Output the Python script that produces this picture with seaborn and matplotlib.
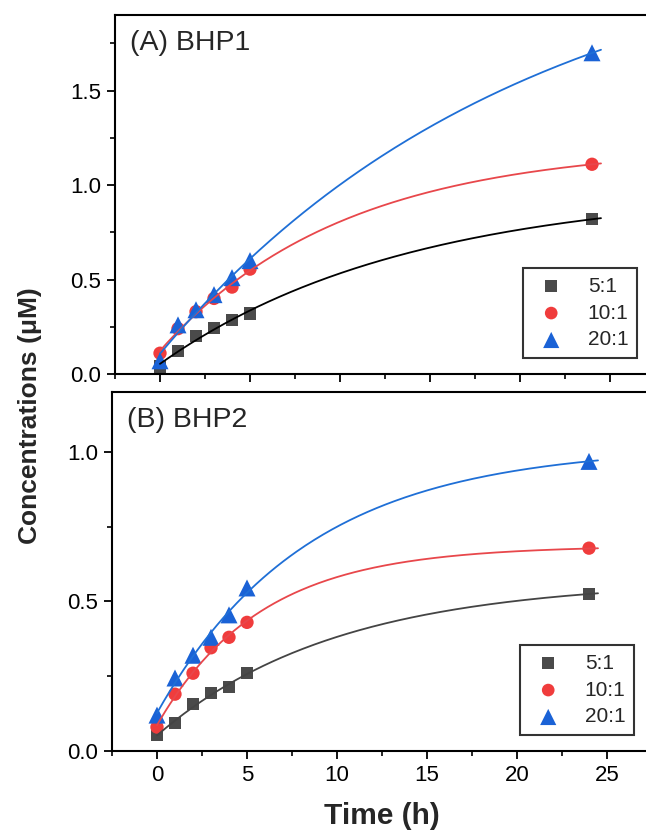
import numpy as np
import pandas as pd
import seaborn as sns
import matplotlib.pyplot as plt
from matplotlib.ticker import MultipleLocator

# sampling times (h)
time_h = [0, 1, 2, 3, 4, 5, 24]
ratios = ["5:1", "10:1", "20:1"]

# (A) BHP1 concentrations (uM)
bhp1_5 = [0.04, 0.12, 0.20, 0.245, 0.285, 0.32, 0.82]
bhp1_10 = [0.11, 0.24, 0.33, 0.40, 0.46, 0.555, 1.11]
bhp1_20 = [0.07, 0.26, 0.34, 0.42, 0.51, 0.60, 1.70]

# (B) BHP2 concentrations (uM)
bhp2_5 = [0.053, 0.093, 0.157, 0.193, 0.213, 0.26, 0.525]
bhp2_10 = [0.08, 0.19, 0.26, 0.345, 0.38, 0.43, 0.678]
bhp2_20 = [0.12, 0.244, 0.32, 0.38, 0.455, 0.545, 0.968]

marker_col = {"5:1": "#4a4a4a", "10:1": "#f03c3c", "20:1": "#1a62d6"}
markers = {"5:1": "s", "10:1": "o", "20:1": "^"}
msize = {"5:1": 78, "10:1": 92, "20:1": 150}


def fit_curve(t, y):
    # exponential rise fit y = a + b*exp(-k t), k by grid, a,b by least squares
    t = np.asarray(t, float)
    y = np.asarray(y, float)
    best = None
    for k in np.logspace(-3, 0.5, 2500):
        A = np.column_stack([np.ones_like(t), np.exp(-k * t)])
        coef = np.linalg.lstsq(A, y, rcond=None)[0]
        err = np.sum((A @ coef - y) ** 2)
        if best is None or err < best[0]:
            best = (err, k, coef)
    _, k, (a, b) = best
    tt = np.linspace(0, 24.5, 200)
    return pd.DataFrame({"t": tt, "c": a + b * np.exp(-k * tt)})


sns.set_theme(style="ticks")
plt.rcParams['font.family'] = ['Liberation Sans', 'DejaVu Sans']

fig = plt.figure(figsize=(6.46, 8.32), dpi=100)
ax1 = fig.add_axes([115 / 646, 1 - 374 / 832, 540 / 646, 359 / 832])
ax2 = fig.add_axes([112 / 646, 1 - 751 / 832, 540 / 646, 359 / 832])

panels = [
    (ax1, [bhp1_5, bhp1_10, bhp1_20], "(A) BHP1", 1.9, ["#000000", "#e8474b", "#1f6fd6"]),
    (ax2, [bhp2_5, bhp2_10, bhp2_20], "(B) BHP2", 1.2, ["#444444", "#e8474b", "#1f6fd6"]),
]

for ax, series, title, ytop, line_cols in panels:
    for r, vals in zip(ratios, series):
        df = pd.DataFrame({"t": time_h, "c": vals})
        sns.scatterplot(data=df, x="t", y="c", color=marker_col[r], marker=markers[r],
                        s=msize[r], edgecolor="none", linewidth=0, ax=ax, zorder=2, label=r)
    for r, vals, lc in zip(ratios, series, line_cols):
        sns.lineplot(data=fit_curve(time_h, vals), x="t", y="c", color=lc,
                     linewidth=1.3, legend=False, ax=ax, zorder=3)

    handles, labels = ax.get_legend_handles_labels()
    leg = ax.legend(handles, labels, loc="lower right", bbox_to_anchor=(0.967, 0.044),
                    borderaxespad=0, fontsize=15, frameon=True, fancybox=False,
                    edgecolor="black", handletextpad=0.8, labelspacing=0.38,
                    borderpad=0.42, markerscale=0.95, handlelength=1.9)
    leg.get_frame().set_linewidth(1.5)

    ax.set_xlim(-2.5, 27.5)
    ax.set_ylim(0, ytop)
    ax.xaxis.set_major_locator(MultipleLocator(5))
    ax.xaxis.set_minor_locator(MultipleLocator(2.5))
    ax.yaxis.set_major_locator(MultipleLocator(0.5))
    ax.yaxis.set_minor_locator(MultipleLocator(0.25))
    ax.tick_params(which="major", direction="out", length=6, width=1.3, labelsize=16,
                   colors="black", pad=4)
    ax.tick_params(which="minor", direction="out", length=3.5, width=1.2, colors="black")
    ax.tick_params(top=False, right=False, which="both")
    for sp in ax.spines.values():
        sp.set_linewidth(1.5)
        sp.set_color("black")
        sp.set_visible(True)
    ax.set_xlabel("")
    ax.set_ylabel("")
    ax.text(0.027, 0.958, title, transform=ax.transAxes, fontsize=20.5, va="top", ha="left")

ax1.tick_params(labelbottom=False)

fig.text(30 / 646, 1 - 416 / 832, "Concentrations (\u03bcM)", rotation=90,
         fontsize=19, fontweight="bold", ha="center", va="center")
fig.text(382 / 646, 1 - 816 / 832, "Time (h)", fontsize=21.5, fontweight="bold",
         ha="center", va="center")

fig.savefig("out.png", dpi=100)
